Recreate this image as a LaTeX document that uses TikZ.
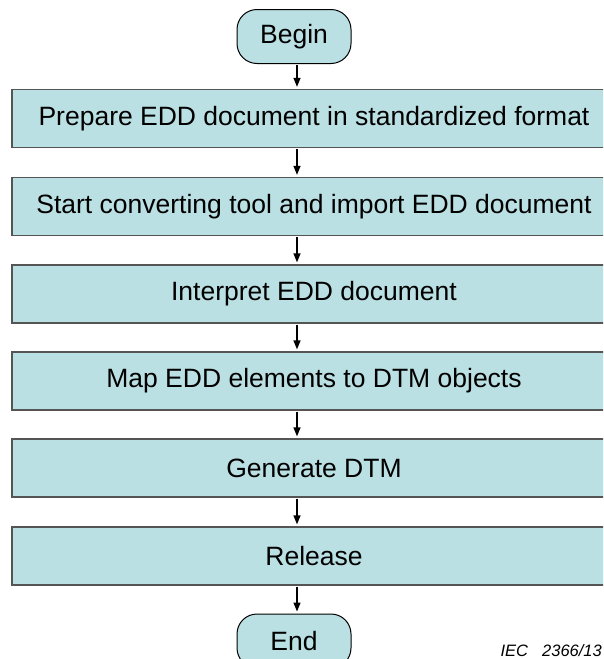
\documentclass[tikz,border=0pt]{standalone}
\usepackage{fontspec}
\setmainfont{Liberation Sans}
\usetikzlibrary{arrows.meta}
\definecolor{boxfill}{RGB}{186,224,227}
\definecolor{boxline}{RGB}{85,85,85}
\begin{document}
\begin{tikzpicture}[x=1pt,y=-1pt]
\tikzstyle{every node}+=[inner sep=0pt,font=\fontsize{26.5}{30}\selectfont]
\tikzstyle{stepbox}=[draw=boxline,line width=1.3pt,fill=boxfill,minimum width=604pt,minimum height=58pt]
\tikzstyle{terminal}=[draw=black,line width=1pt,fill=boxfill,rounded corners=20pt,minimum width=114pt,minimum height=54pt]
\tikzstyle{flow}=[black,line width=1.3pt,-{Triangle[length=9pt,width=7pt]},shorten <=1pt,shorten >=2pt]
\useasboundingbox (0,0) rectangle (603,659);
\clip (0,0) rectangle (603,659);
\coordinate (axis) at (297,0);
\node [terminal] (begin) at (294,36.5) {Begin};
\node [stepbox] (prepare) at (314,118.5) {Prepare EDD document in standardized format};
\node [stepbox] (import) at (314,206.5) {Start converting tool and import EDD document};
\node [stepbox] (interpret) at (314,294) {Interpret EDD document};
\node [stepbox] (map) at (314,381) {Map EDD elements to DTM objects};
\node [stepbox] (generate) at (314,468) {Generate DTM};
\node [stepbox] (release) at (314,556) {Release};
\node [terminal] (end) at (294,641) {End};
\node [anchor=east,font=\fontsize{16.5}{20}\selectfont\itshape] (iec) at (602,651) {IEC\hspace{14pt}2366/13};
\draw [flow] (begin.south -| axis) -- (prepare.north -| axis);
\draw [flow] (prepare.south -| axis) -- (import.north -| axis);
\draw [flow] (import.south -| axis) -- (interpret.north -| axis);
\draw [flow] (interpret.south -| axis) -- (map.north -| axis);
\draw [flow] (map.south -| axis) -- (generate.north -| axis);
\draw [flow] (generate.south -| axis) -- (release.north -| axis);
\draw [flow] (release.south -| axis) -- (end.north -| axis);
\end{tikzpicture}
\end{document}
